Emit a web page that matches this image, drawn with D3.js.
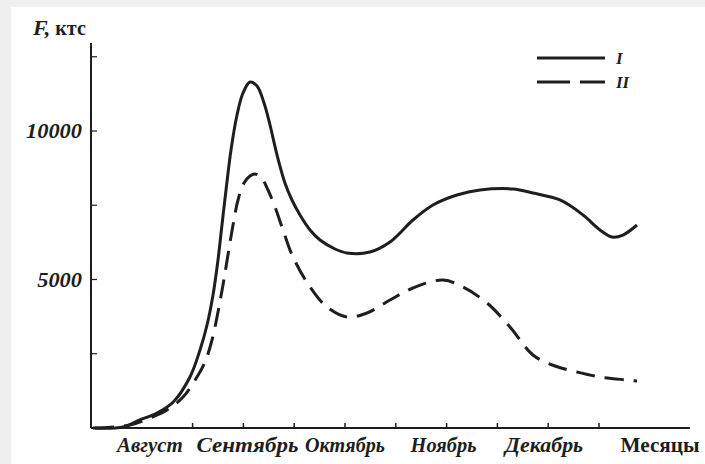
<!DOCTYPE html>
<html><head><meta charset="utf-8">
<script src="https://cdn.jsdelivr.net/npm/d3@7"></script>
<style>body{margin:0;background:#efefef;}svg{display:block;}</style>
</head><body>
<svg id="c" width="705" height="464"></svg>
<script>
// month positions: 0 = start of August, 1 = start of September, ...
const monthLabels = ["Август", "Сентябрь", "Октябрь", "Ноябрь", "Декабрь"];
const monthLabelPos = [0.58, 1.54, 2.5, 3.47, 4.46];
const xTicks = [1, 1.5, 2, 2.5, 3, 3.5, 4, 4.5, 5];
const yTicks = [2500, 5000, 7500, 10000, 12500];
const yTickLabels = [5000, 10000];
const seriesNames = ["I", "II"];

const xI = [0.02,0.315,0.48,0.65,0.81,0.974,1.073,1.142,1.201,1.25,1.289,1.329,1.378,1.437,1.496,1.565,1.634,1.703,1.762,1.831,1.909,1.978,2.057,2.156,2.254,2.402,2.52,2.746,2.943,3.169,3.366,3.602,3.829,4.154,4.35,4.616,4.843,5.01,5.128,5.236,5.374];
const yI = [0,34,270,505,875,1717,2626,3468,4478,5657,6835,8013,9360,10539,11279,11650,11515,10943,10202,9192,8249,7677,7172,6667,6330,6027,5892,5926,6263,7003,7508,7845,8013,8047,7912,7677,7172,6667,6431,6498,6835];

const xII = [0.04,0.384,0.581,0.748,0.906,1.043,1.122,1.191,1.25,1.299,1.348,1.398,1.447,1.506,1.565,1.614,1.673,1.742,1.811,1.89,1.988,2.156,2.323,2.52,2.717,2.943,3.169,3.465,3.661,3.898,4.124,4.35,4.567,4.783,5.01,5.276,5.374];
const yII = [0,100,337,606,1044,1717,2222,2963,3906,4815,5825,6835,7677,8249,8485,8552,8451,8013,7441,6667,5758,4747,4074,3737,3872,4310,4714,4983,4747,4209,3400,2458,2088,1886,1717,1616,1582];

const svg = d3.select("#c");
svg.append("rect").attr("x",11).attr("y",7).attr("width",694).attr("height",457).attr("fill","#fff");

const x = d3.scaleLinear().domain([0,5]).range([91,599]);
const y = d3.scaleLinear().domain([0,10000]).range([428,131]);
const ink = "#1e1e1e";
const serif = "'Liberation Serif','DejaVu Serif',serif";

// axes
svg.append("line").attr("x1",x(0)).attr("x2",x(0)).attr("y1",y(0)).attr("y2",43)
  .attr("stroke",ink).attr("stroke-width",2);
svg.append("line").attr("x1",x(0)).attr("x2",690).attr("y1",y(0)).attr("y2",y(0))
  .attr("stroke",ink).attr("stroke-width",2);

svg.selectAll(".yt").data(yTicks).join("line")
  .attr("x1",x(0)).attr("x2",x(0)+6).attr("y1",d=>y(d)).attr("y2",d=>y(d))
  .attr("stroke",ink).attr("stroke-width",1.2);
svg.selectAll(".xt").data(xTicks).join("line")
  .attr("x1",d=>x(d)).attr("x2",d=>x(d)).attr("y1",y(0)).attr("y2",y(0)-5)
  .attr("stroke",ink).attr("stroke-width",1.5);

svg.selectAll(".yl").data(yTickLabels).join("text")
  .attr("x",82).attr("y",d=>y(d)+7).attr("text-anchor","end")
  .attr("font-family",serif).attr("font-style","italic").attr("font-weight","bold")
  .attr("font-size",20).attr("fill",ink).attr("textLength",d=>String(d).length*11.2).attr("lengthAdjust","spacingAndGlyphs")
  .text(d=>d);

const monthWidths = [66, 102, 80, 66, 78];
svg.selectAll(".ml").data(monthLabels).join("text")
  .attr("x",(d,i)=>x(monthLabelPos[i])).attr("y",452).attr("text-anchor","middle")
  .attr("font-family",serif).attr("font-style","italic").attr("font-weight","bold")
  .attr("font-size",20).attr("fill",ink)
  .attr("textLength",(d,i)=>monthWidths[i]).attr("lengthAdjust","spacingAndGlyphs")
  .text(d=>d);

svg.append("text").attr("x",660).attr("y",452).attr("text-anchor","middle")
  .attr("font-family",serif).attr("font-weight","bold").attr("font-size",20).attr("fill",ink)
  .attr("textLength",79).attr("lengthAdjust","spacingAndGlyphs")
  .text("Месяцы");

const t = svg.append("text").attr("x",33).attr("y",35)
  .attr("font-family",serif).attr("font-weight","bold").attr("font-size",20).attr("fill",ink);
t.append("tspan").attr("font-style","italic").attr("font-size",22).text("F,");
t.append("tspan").text(" ктс");

// curves
const line = d3.line().x(d=>x(d[0])).y(d=>y(d[1])).curve(d3.curveCatmullRom.alpha(0.5));
const dI = xI.map((v,i)=>[v,yI[i]]);
const dII = xII.map((v,i)=>[v,yII[i]]);
svg.append("path").attr("d",line(dI)).attr("fill","none").attr("stroke",ink).attr("stroke-width",3).attr("stroke-linejoin","round");
svg.append("path").attr("d",line(dII)).attr("fill","none").attr("stroke",ink).attr("stroke-width",3)
  .attr("stroke-dasharray","19,10");

// legend
const lg = [{y:58, dash:null},{y:82, dash:"33,10"}];
lg.forEach((l,i)=>{
  svg.append("line").attr("x1",537).attr("x2",605).attr("y1",l.y).attr("y2",l.y)
    .attr("stroke",ink).attr("stroke-width",3).attr("stroke-dasharray",l.dash);
  svg.append("text").attr("x",616).attr("y",l.y+6)
    .attr("font-family",serif).attr("font-style","italic").attr("font-weight","bold")
    .attr("font-size",17).attr("fill",ink).text(seriesNames[i]);
});
</script>
</body></html>
